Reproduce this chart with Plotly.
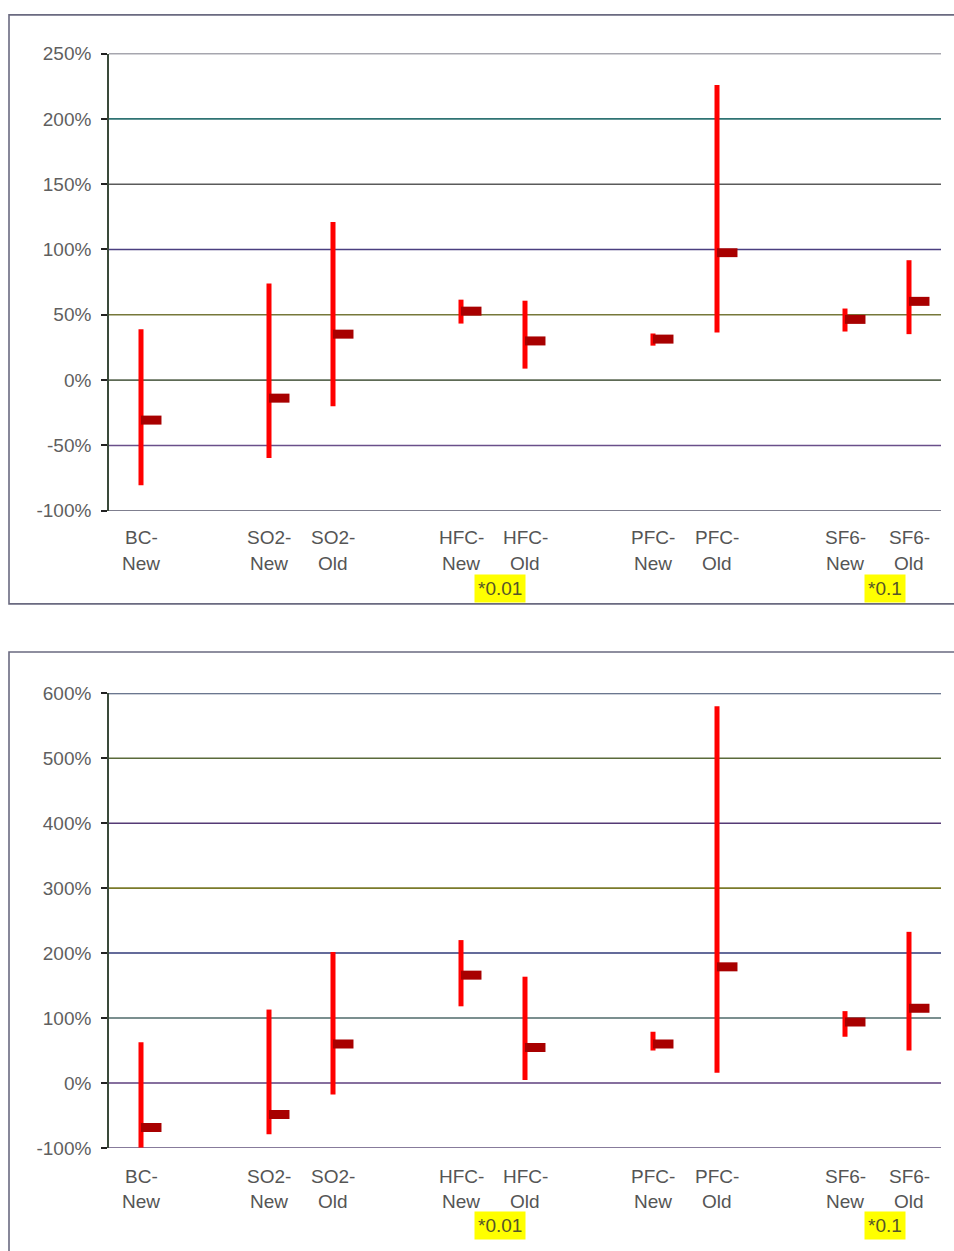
import plotly.graph_objects as go

W, H = 954, 1251

categories = ["BC-New", "", "SO2-New", "SO2-Old", "", "HFC-New", "HFC-Old", "",
              "PFC-New", "PFC-Old", "", "SF6-New", "SF6-Old"]

top_high = [39, None, 74, 121, None, 61.6, 60.8, None, 35.7, 226, None, 54.8, 91.8]
top_low = [-80.4, None, -59.6, -20, None, 43.3, 8.8, None, 26.4, 36.5, None, 37.2, 35.2]
top_close = [-30.6, None, -13.8, 35.2, None, 52.8, 30, None, 31.4, 97.6, None, 46.5, 60.3]

bot_high = [62.6, None, 113, 201.5, None, 220, 163.6, None, 78.8, 580, None, 110.6, 232.7]
bot_low = [-100, None, -79, -18, None, 118, 4.5, None, 50, 15.6, None, 71, 50]
bot_close = [-68.7, None, -48.5, 60, None, 166, 54.5, None, 60, 178.8, None, 94, 115]

top_ticks = [-100, -50, 0, 50, 100, 150, 200, 250]
bot_ticks = [-100, 0, 100, 200, 300, 400, 500, 600]
top_grid_colors = ["#55556a", "#6a4f8a", "#5d6a55", "#76783a", "#4a3f80", "#5a5a5a", "#2f7373", "#4f4f5f"]
bot_grid_colors = ["#5f4f7a", "#5e3f7e", "#4f6a6a", "#303a78", "#7a7a2a", "#553a75", "#5a6a3a", "#3a4a6a"]

notes = [("*0.01", 500), ("*0.1", 885)]  # (text, pixel x centre)

def py(p):
    return 1 - p / H

def px(p):
    return p / W

fig = go.Figure()

panels = [
    dict(high=top_high, low=top_low, close=top_close, ticks=top_ticks,
         rng=[-100, 250], y0=44.3, y1=509.3, gc=top_grid_colors, xa="x", ya="y",
         frame=(9, 5, 1100, 604), lab=(537, 563, 588)),
    dict(high=bot_high, low=bot_low, close=bot_close, ticks=bot_ticks,
         rng=[-100, 600], y0=695, y1=1157.3, gc=bot_grid_colors, xa="x2", ya="y2",
         frame=(9, 653, 1100, 1400), lab=(1186, 1212, 1236)),
]

shapes = []
annotations = []
lab_font = dict(family="Liberation Sans, Arial, sans-serif", size=19, color="#555555")
for k, p in enumerate(panels):
    xs, ys = [], []
    for i, (h, l) in enumerate(zip(p["high"], p["low"])):
        if h is None:
            continue
        xs += [i, i, None]
        ys += [l, h, None]
    fig.add_trace(go.Scatter(x=xs, y=ys, mode="lines", line=dict(color="#ff0000", width=5),
                             xaxis=p["xa"], yaxis=p["ya"], showlegend=False, hoverinfo="skip"))
    xs, ys = [], []
    for i, c in enumerate(p["close"]):
        if c is None:
            continue
        xs += [i, i + 0.32, None]
        ys += [c, c, None]
    fig.add_trace(go.Scatter(x=xs, y=ys, mode="lines", line=dict(color="#a80000", width=9),
                             xaxis=p["xa"], yaxis=p["ya"], showlegend=False, hoverinfo="skip"))
    for t, col in zip(p["ticks"], p["gc"]):
        shapes.append(dict(type="line", xref=p["xa"] + " domain", yref=p["ya"],
                           x0=0, x1=1, y0=t, y1=t, line=dict(color=col, width=1.6), layer="below"))
    fx0, fy0, fx1, fy1 = p["frame"]
    shapes.append(dict(type="rect", xref="paper", yref="paper", x0=px(fx0), x1=px(fx1),
                       y0=py(fy1), y1=py(fy0), line=dict(color="#6a6a80", width=1.6)))
    l1, l2, l3 = p["lab"]
    for i, c in enumerate(categories):
        if not c:
            continue
        a, b = c.split("-")
        annotations.append(dict(x=i, xref=p["xa"], y=py(l1), yref="paper", text=a + "-",
                                showarrow=False, font=lab_font,
                                xanchor="center", yanchor="middle"))
        annotations.append(dict(x=i, xref=p["xa"], y=py(l2), yref="paper", text=b,
                                showarrow=False, font=lab_font,
                                xanchor="center", yanchor="middle"))
    for txt, xc in notes:
        annotations.append(dict(x=px(xc), xref="paper", y=py(l3), yref="paper", text=txt,
                                showarrow=False,
                                font=dict(family="Liberation Sans, Arial, sans-serif", size=19,
                                          color="#55552a"),
                                bgcolor="#ffff00", borderpad=3,
                                xanchor="center", yanchor="middle"))

dom_x = [px(109), px(941)]
axis_font = dict(family="Liberation Sans, Arial, sans-serif", size=19, color="#5f5f5f")
layout = dict(
    width=W, height=H, margin=dict(l=0, r=0, t=0, b=0),
    paper_bgcolor="white", plot_bgcolor="white",
    font=dict(family="Liberation Sans, Arial, sans-serif"),
    shapes=shapes, annotations=annotations,
)
for k, p in enumerate(panels):
    sfx = "" if k == 0 else "2"
    layout["xaxis" + sfx] = dict(domain=dom_x, range=[-0.5, len(categories) - 0.5],
                                 showticklabels=False, showgrid=False, zeroline=False,
                                 showline=False, ticks="", anchor="y" + sfx, fixedrange=True)
    layout["yaxis" + sfx] = dict(domain=[py(p["y1"]), py(p["y0"])], range=p["rng"],
                                 tickvals=p["ticks"], ticktext=[f"{t}%" for t in p["ticks"]],
                                 showgrid=False, zeroline=False, showline=True,
                                 linecolor="#3a4a3a", linewidth=1.6, ticks="outside",
                                 ticklen=6, tickcolor="#222", tickwidth=1.5,
                                 tickfont=axis_font, anchor="x" + sfx,
                                 ticklabelstandoff=6)
fig.update_layout(**layout)
fig.write_html("out.html", config={"displayModeBar": False},
               post_script="document.body.style.margin='0';document.body.style.overflow='hidden';")
